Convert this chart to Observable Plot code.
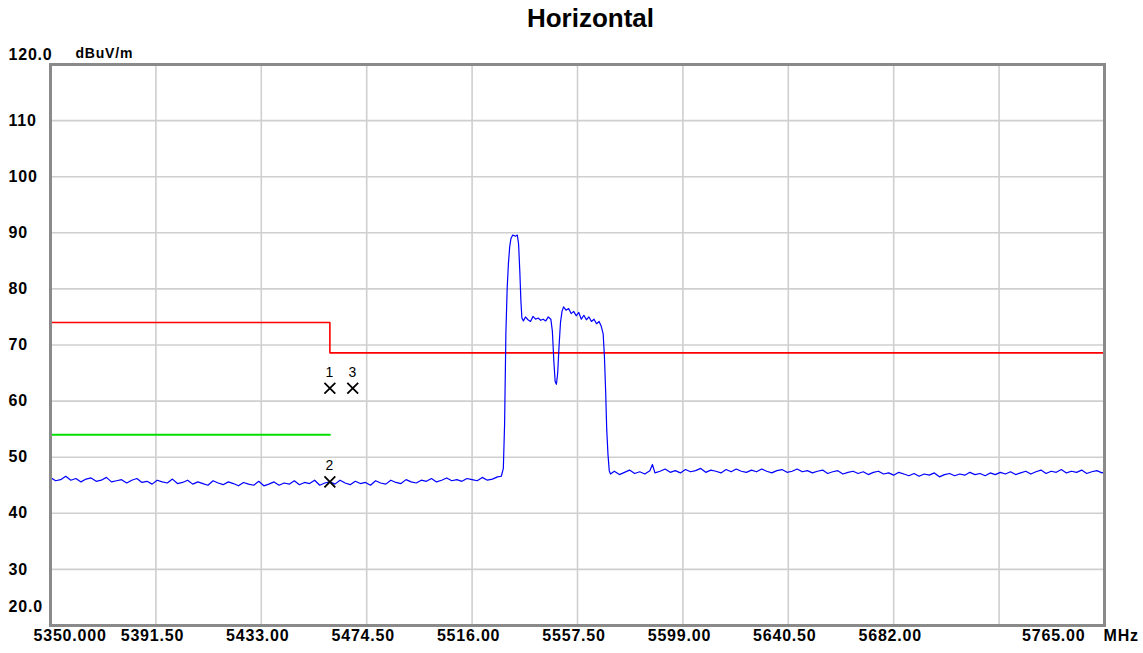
<!DOCTYPE html>
<html><head><meta charset="utf-8">
<script src="https://cdn.jsdelivr.net/npm/d3@7"></script>
<script src="https://cdn.jsdelivr.net/npm/@observablehq/plot@0.6"></script>
<style>
body{margin:0;background:#fff;width:1143px;height:653px;overflow:hidden;position:relative;}
#title{position:absolute;left:0;top:3px;width:1143px;height:40px;line-height:40px;box-sizing:border-box;padding-left:38px;text-align:center;font:bold 26px "Liberation Sans",Arial,sans-serif;color:#000;}
#chart{position:absolute;left:0;top:36px;}
</style></head><body>
<div id="title">Horizontal</div>
<div id="chart"></div>
<script>
const xTickValues = [5350, 5391.5, 5433, 5474.5, 5516, 5557.5, 5599, 5640.5, 5682, 5765];
const xTickLabels = ["5350.000", "5391.50", "5433.00", "5474.50", "5516.00", "5557.50", "5599.00", "5640.50", "5682.00", "5765.00"];
const xGridValues = [5391.5, 5433, 5474.5, 5516, 5557.5, 5599, 5640.5, 5682, 5723.5];
const yTickValues = [30, 40, 50, 60, 70, 80, 90, 100, 110];
const yTickLabels = ["30", "40", "50", "60", "70", "80", "90", "100", "110"];
const yTopLabel = "120.0";
const yBottomLabel = "20.0";
const yUnit = "dBuV/m";
const xUnit = "MHz";

const limitRedFreq = [5350, 5460, 5460, 5765];
const limitRedLevel = [74, 74, 68.6, 68.6];
const limitGreenFreq = [5350, 5460];
const limitGreenLevel = [54, 54];

const markerIds = ["1", "2", "3"];
const markerFreq = [5460, 5460, 5469];
const markerLevel = [62.3, 45.6, 62.3];

const trace = [
[5350,46.4],[5352,45.8],[5354,46.0],[5356,46.6],[5358,45.9],[5360,46.2],[5362,45.6],[5364,46.1],[5366,46.3],[5368,45.7],
[5370,45.9],[5372,46.4],[5374,45.6],[5376,45.8],[5378,46.0],[5380,45.4],[5382,45.9],[5384,46.2],[5386,45.5],[5388,45.7],
[5390,45.2],[5392,45.9],[5394,45.6],[5396,45.4],[5398,46.1],[5400,45.3],[5402,45.5],[5404,45.9],[5406,45.2],[5408,45.6],
[5410,45.3],[5412,45.0],[5414,45.8],[5416,45.4],[5418,45.1],[5420,45.6],[5422,45.3],[5424,44.9],[5426,45.5],[5428,45.2],
[5430,45.0],[5432,45.7],[5434,44.9],[5436,45.2],[5438,45.6],[5440,45.0],[5442,45.4],[5444,45.2],[5446,45.8],[5448,45.1],
[5450,45.5],[5452,45.3],[5454,45.9],[5456,45.0],[5458,45.4],[5460,45.6],[5462,45.2],[5464,45.9],[5466,45.4],[5468,45.1],
[5470,45.7],[5472,45.3],[5474,45.5],[5476,45.0],[5478,45.8],[5480,45.4],[5482,45.2],[5484,45.9],[5486,45.5],[5488,45.3],
[5490,46.0],[5492,45.6],[5494,45.4],[5496,45.9],[5498,45.7],[5500,46.2],[5502,45.6],[5504,45.9],[5506,46.3],[5508,45.8],
[5510,46.0],[5512,45.7],[5514,46.2],[5516,46.0],[5518,45.8],[5520,46.4],[5522,45.9],[5524,46.1],[5526,46.5],[5527.5,46.6],
[5528.3,48.0],[5528.8,56.0],[5529.3,72.0],[5529.8,80.0],[5530.3,84.5],[5530.8,87.5],[5531.3,89.0],[5532.0,89.6],[5533.0,89.4],[5533.8,89.6],
[5534.3,88.0],[5534.8,83.0],[5535.2,78.0],[5535.6,74.8],[5536.2,74.3],[5537,75.0],[5538,74.5],[5539,74.2],[5540,75.1],[5541,74.6],
[5542,74.8],[5543,74.4],[5544,74.6],[5545,74.3],[5546,75.0],[5547,74.6],[5547.6,72.5],[5548.2,67.0],[5548.7,63.5],[5549.2,63.0],
[5549.7,65.0],[5550.2,69.5],[5550.8,74.0],[5551.4,76.0],[5552,76.8],[5553,76.2],[5554,76.5],[5555,75.6],[5556,76.0],[5557,75.2],
[5558,75.8],[5559,74.6],[5560,75.3],[5561,74.5],[5562,75.0],[5563,74.2],[5564,74.6],[5565,73.8],[5566,74.2],[5566.8,73.4],
[5567.6,72.0],[5568.1,68.0],[5568.6,61.5],[5569.0,55.0],[5569.5,50.5],[5570.0,47.6],[5570.5,47.0],
[5572,47.5],[5574,46.9],[5576,47.3],[5578,47.7],[5580,47.1],[5582,47.4],[5584,47.0],[5586,47.6],[5587,48.7],[5588,47.2],
[5590,47.5],[5592,47.9],[5594,47.3],[5596,47.6],[5598,47.2],[5600,47.8],[5602,47.4],[5604,47.6],[5606,48.0],[5608,47.3],
[5610,47.7],[5612,47.5],[5614,47.2],[5616,47.8],[5618,47.4],[5620,47.9],[5622,47.5],[5624,47.3],[5626,47.7],[5628,47.4],
[5630,47.9],[5632,47.5],[5634,47.2],[5636,47.6],[5638,47.8],[5640,47.3],[5642,47.5],[5644,47.9],[5646,47.4],[5648,47.6],
[5650,47.2],[5652,47.5],[5654,47.7],[5656,47.1],[5658,47.4],[5660,47.6],[5662,47.0],[5664,47.3],[5666,47.5],[5668,47.1],
[5670,47.4],[5672,46.9],[5674,47.3],[5676,47.5],[5678,47.0],[5680,47.2],[5682,46.8],[5684,47.3],[5686,47.0],[5688,46.7],
[5690,47.1],[5692,46.6],[5694,47.0],[5696,46.8],[5698,47.2],[5700,46.5],[5702,46.9],[5704,47.1],[5706,46.7],[5708,47.0],
[5710,46.8],[5712,47.3],[5714,46.9],[5716,47.1],[5718,46.7],[5720,47.2],[5722,46.9],[5724,47.3],[5726,47.0],[5728,47.4],
[5730,46.9],[5732,47.2],[5734,47.5],[5736,47.0],[5738,47.4],[5740,47.7],[5742,47.1],[5744,47.5],[5746,47.3],[5748,47.8],
[5750,47.2],[5752,47.5],[5754,47.3],[5756,47.7],[5758,47.1],[5760,47.4],[5762,47.6],[5764,47.2],[5765,47.4]
];

const redLimit = limitRedFreq.map((f, i) => ({f, v: limitRedLevel[i]}));
const greenLimit = limitGreenFreq.map((f, i) => ({f, v: limitGreenLevel[i]}));
const markers = markerIds.map((id, i) => ({id, f: markerFreq[i], v: markerLevel[i]}));
const traceRows = trace.map(([f, v]) => ({f, v}));
const xTicks = xTickValues.map((x, i) => ({x, label: xTickLabels[i], i}));
const yTicks = yTickValues.map((y, i) => ({y, label: yTickLabels[i]}));
const lastI = xTicks.length - 1;

const plot = Plot.plot({
  width: 1143,
  height: 617,
  marginLeft: 50,
  marginRight: 39,
  marginTop: 28,
  marginBottom: 28,
  x: {domain: [5350, 5765], axis: null},
  y: {domain: [20, 120], axis: null},
  style: {fontFamily: "'Liberation Sans', Arial, sans-serif", fontWeight: "bold", fontSize: "16px", letterSpacing: "0.8px", background: "white", overflow: "visible", color: "#000"},
  marks: [
    Plot.ruleX(xGridValues, {stroke: "#cfcfcf", strokeWidth: 1.6}),
    Plot.ruleY(yTickValues, {stroke: "#cfcfcf", strokeWidth: 1.6}),
    Plot.line(redLimit, {x: "f", y: "v", stroke: "#ff0000", strokeWidth: 1.6}),
    Plot.line(greenLimit, {x: "f", y: "v", stroke: "#00e000", strokeWidth: 2.2}),
    Plot.line(traceRows, {x: "f", y: "v", stroke: "#0000ff", strokeWidth: 1.2}),
    Plot.dot(markers, {x: "f", y: "v", symbol: "times", r: 5, stroke: "#000", strokeWidth: 1.8}),
    Plot.text(markers, {x: "f", y: "v", text: "id", dy: -16, fontSize: 14, fontWeight: "normal", fill: "#000"}),
    Plot.frame({stroke: "#8a8a8a", strokeWidth: 3}),
    Plot.text(yTicks, {y: "y", text: "label", frameAnchor: "left", dx: -42, textAnchor: "start", fill: "#000"}),
    Plot.text([yTopLabel], {text: d => d, frameAnchor: "top-left", dx: -42, dy: -16, textAnchor: "start", fill: "#000"}),
    Plot.text([yUnit], {text: d => d, frameAnchor: "top-left", dx: 25, dy: -16, textAnchor: "start", fontSize: 14, fill: "#000"}),
    Plot.text([yBottomLabel], {text: d => d, frameAnchor: "bottom-left", dx: -42, dy: -14, textAnchor: "start", fill: "#000"}),
    Plot.text(xTicks.filter(d => d.i === 0), {x: "x", text: "label", frameAnchor: "bottom", dy: 15, dx: -17, textAnchor: "start", fill: "#000"}),
    Plot.text(xTicks.filter(d => d.i > 0 && d.i < lastI), {x: "x", text: "label", frameAnchor: "bottom", dy: 15, dx: -3.5, fill: "#000"}),
    Plot.text(xTicks.filter(d => d.i === lastI), {x: "x", text: "label", frameAnchor: "bottom", dy: 15, dx: -19, textAnchor: "end", fill: "#000"}),
    Plot.text([xUnit], {x: () => 5765, text: d => d, frameAnchor: "bottom", dy: 15, dx: -1, textAnchor: "start", fill: "#000"})
  ]
});
document.getElementById("chart").appendChild(plot);
</script>
</body></html>
